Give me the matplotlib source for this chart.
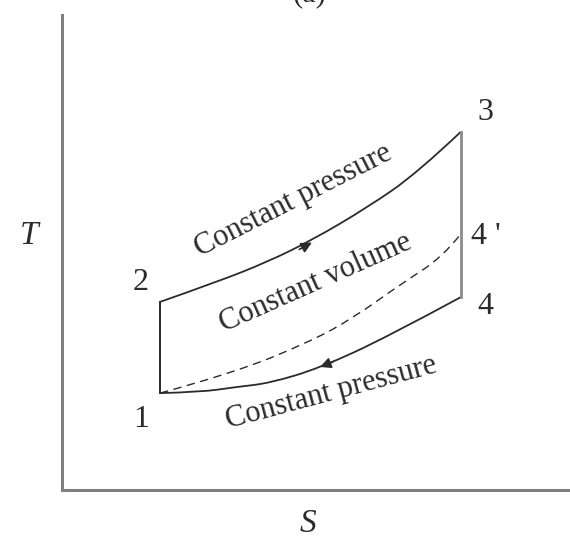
import numpy as np
import matplotlib
matplotlib.use('Agg')
import matplotlib.pyplot as plt
from matplotlib.path import Path
from matplotlib.patches import PathPatch

# Brayton cycle on T-S axes (arbitrary units)
# constant pressure heat addition 2 -> 3
s_23 = [1.93, 3.05, 4.04, 4.92, 6.00, 6.99, 7.85]
t_23 = [3.96, 4.38, 4.80, 5.26, 5.94, 6.67, 7.54]
# constant pressure heat rejection, listed from 1 to 4
s_14 = [1.93, 2.72, 3.44, 4.09, 5.08, 6.40, 7.85]
t_14 = [2.04, 2.06, 2.17, 2.25, 2.57, 3.22, 4.06]
# constant volume line 1 -> 4'
s_v = [1.93, 3.37, 4.88, 5.73, 6.65, 7.50, 7.85]
t_v = [2.04, 2.46, 3.12, 3.62, 4.32, 4.91, 5.39]

state_labels = ['1', '2', '3', "4 '", '4']

plt.rcParams['font.family'] = ['Liberation Serif', 'DejaVu Serif']


def smooth_path(xs, ys):
    # quadratic bezier through midpoints, read points used as control points
    pts = list(zip(xs, ys))
    verts = [pts[0]]
    codes = [Path.MOVETO]
    for i in range(1, len(pts) - 2):
        mid = ((pts[i][0] + pts[i + 1][0]) / 2, (pts[i][1] + pts[i + 1][1]) / 2)
        verts += [pts[i], mid]
        codes += [Path.CURVE3, Path.CURVE3]
    verts += [pts[-2], pts[-1]]
    codes += [Path.CURVE3, Path.CURVE3]
    return Path(verts, codes)


fig = plt.figure(figsize=(5.7, 5.41), dpi=100)
ax = fig.add_axes([62 / 570, 51 / 541, 508 / 570, 475 / 541])
ax.set_xlim(0, 10)
ax.set_ylim(0, 10)

dark = '#2b2b2b'
# curves
ax.add_patch(PathPatch(smooth_path(s_23, t_23), fill=False, edgecolor=dark, lw=1.3))
ax.add_patch(PathPatch(smooth_path(s_14, t_14), fill=False, edgecolor=dark, lw=1.3))
ax.add_patch(PathPatch(smooth_path(s_v, t_v), fill=False, edgecolor=dark, lw=1.0,
                       linestyle=(0, (6, 4))))
# vertical (isentropic) lines
ax.plot([s_23[0], s_14[0]], [t_23[0], t_14[0]], color=dark, lw=1.4)
ax.plot([s_23[-1], s_14[-1]], [t_23[-1], t_14[-1]], color='#8a8a8a', lw=2.0)

# direction arrows (short tails along the local slope)
x_up, y_up = s_23[3], t_23[3] - 0.05
slope_up = (t_23[4] - t_23[2]) / (s_23[4] - s_23[2])
ax.annotate('', xy=(x_up, y_up), xytext=(x_up - 0.25, y_up - 0.25 * slope_up),
            arrowprops=dict(arrowstyle='-|>', color=dark, lw=1.2,
                            mutation_scale=16, shrinkA=0, shrinkB=0))
x_dn, y_dn = s_14[4], t_14[4] + 0.02
slope_dn = (t_14[5] - t_14[3]) / (s_14[5] - s_14[3])
ax.annotate('', xy=(x_dn, y_dn), xytext=(x_dn + 0.25, y_dn + 0.25 * slope_dn),
            arrowprops=dict(arrowstyle='-|>', color=dark, lw=1.2,
                            mutation_scale=16, shrinkA=0, shrinkB=0))

# state numbers
ax.text(1.55, t_14[0] - 0.55, state_labels[0], fontsize=23, ha='center', va='center', color=dark)
ax.text(1.55, t_23[0] + 0.40, state_labels[1], fontsize=23, ha='center', va='center', color=dark)
ax.text(8.33, t_23[-1] + 0.40, state_labels[2], fontsize=23, ha='center', va='center', color=dark)
ax.text(8.05, t_v[-1] - 0.05, state_labels[3], fontsize=23, ha='left', va='center', color=dark)
ax.text(8.33, t_14[-1] - 0.20, state_labels[4], fontsize=23, ha='center', va='center', color=dark)

# process labels
ax.text(4.55, 6.08, 'Constant pressure', fontsize=22, rotation=27,
        ha='center', va='center', color=dark, rotation_mode='anchor')
ax.text(5.00, 4.35, 'Constant volume', fontsize=22, rotation=24,
        ha='center', va='center', color=dark, rotation_mode='anchor')
ax.text(5.30, 2.05, 'Constant pressure', fontsize=22, rotation=15,
        ha='center', va='center', color=dark, rotation_mode='anchor')

# axis names
ax.text(-0.65, 5.35, 'T', fontsize=24, style='italic', ha='center', va='center',
        color=dark, clip_on=False)
ax.text(4.85, -0.70, 'S', fontsize=24, style='italic', ha='center', va='center',
        color=dark, clip_on=False)
fig.text(310 / 570, 1 - 8 / 541, '(a)', fontsize=22, ha='center', va='bottom', color=dark)

for side in ['top', 'right']:
    ax.spines[side].set_visible(False)
for side in ['left', 'bottom']:
    ax.spines[side].set_color('#808080')
    ax.spines[side].set_linewidth(2.2)
ax.set_xticks([])
ax.set_yticks([])

fig.savefig('out.png', dpi=100)
